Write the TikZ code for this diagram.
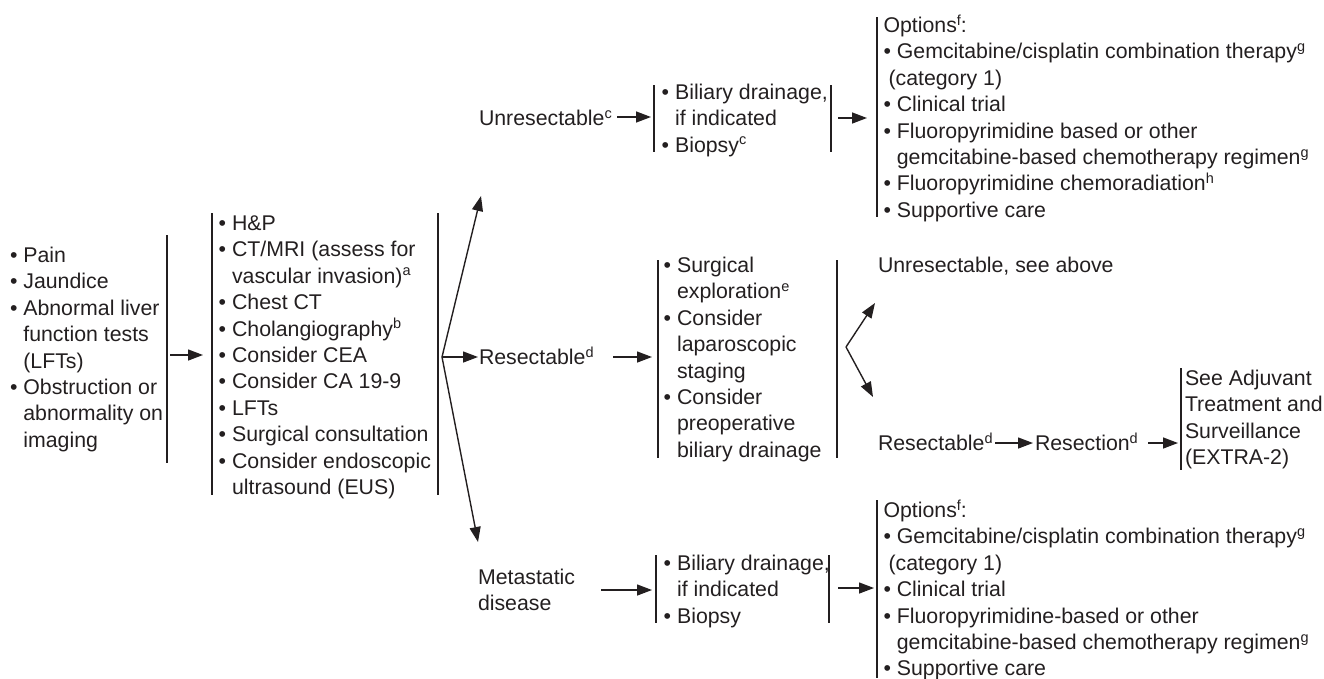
\documentclass[tikz,border=0pt]{standalone}
\usepackage{fontspec}
\setmainfont{Liberation Sans}
\usetikzlibrary{arrows.meta}
\definecolor{ink}{RGB}{35,31,32}
% footnote letters, bullets and hanging indents
\newcommand\fn[1]{\raisebox{7.5pt}{\fontsize{14.5}{14.5}\selectfont #1}}
\newcommand\bu{\textbullet\ }
\newcommand\ind{\hphantom{\textbullet\ }}
\newcommand\lines[1]{\begin{tabular}[t]{@{}l@{}}#1\end{tabular}}
\begin{document}
\begin{tikzpicture}[x=1pt,y=-1pt,
  every node/.style={inner sep=0pt,outer sep=0pt,text=ink,
    font=\fontsize{21.3}{26.4}\selectfont},
  txt/.style={anchor=base west},
  bar/.style={draw=ink,line width=1.4pt},
  arr/.style={draw=ink,line width=1.4pt,-{Triangle[length=15pt,width=11pt]}}]
\useasboundingbox (0,0) rectangle (1324,678);

% presenting signs
\node[txt] (sym) at (10,262.5) {\lines{\bu Pain\\ \bu Jaundice\\ \bu Abnormal liver\\
  \ind function tests\\ \ind (LFTs)\\ \bu Obstruction or\\ \ind abnormality on\\ \ind imaging}};
\coordinate (symT) at (167,235); \coordinate (symB) at (167,463);
\draw[bar] (symT) -- (symB);
\coordinate (symOut) at (170,355); \coordinate (wkIn) at (203,355);
\draw[arr] (symOut) -- (wkIn);

% workup
\coordinate (wkLT) at (212,213); \coordinate (wkLB) at (212,495);
\coordinate (wkRT) at (438,213); \coordinate (wkRB) at (438,495);
\draw[bar] (wkLT) -- (wkLB);
\draw[bar] (wkRT) -- (wkRB);
\node[txt] (wk) at (218.7,230.5) {\lines{\bu H\&P\\ \bu CT/MRI (assess for\\
  \ind vascular invasion)\fn{a}\\ \bu Chest CT\\ \bu Cholangiography\fn{b}\\
  \bu Consider CEA\\ \bu Consider CA 19-9\\ \bu LFTs\\ \bu Surgical consultation\\
  \bu Consider endoscopic\\ \ind ultrasound (EUS)}};

% three-way split
\coordinate (fork) at (442,357);
\coordinate (toUnres) at (481,196);
\coordinate (toRes) at (478,357);
\coordinate (toMet) at (478,542);
\draw[arr] (fork) -- (toUnres);
\draw[arr] (fork) -- (toRes);
\draw[arr] (fork) -- (toMet);

% unresectable branch
\node[txt] (unres) at (479,125.5) {Unresectable\fn{c}};
\coordinate (unOut) at (617,117); \coordinate (unIn) at (651,117);
\draw[arr] (unOut) -- (unIn);
\coordinate (b1LT) at (654,85); \coordinate (b1LB) at (654,152);
\coordinate (b1RT) at (831,85); \coordinate (b1RB) at (831,152);
\draw[bar] (b1LT) -- (b1LB);
\draw[bar] (b1RT) -- (b1RB);
\node[txt] (drain1) at (661.7,99.5) {\lines{\bu Biliary drainage,\\ \ind if indicated\\ \bu Biopsy\fn{c}}};
\coordinate (d1Out) at (838,118); \coordinate (d1In) at (867,118);
\draw[arr] (d1Out) -- (d1In);
\coordinate (o1T) at (877,17); \coordinate (o1B) at (877,217);
\draw[bar] (o1T) -- (o1B);
\node[txt] (opt1) at (883.5,32.5) {\lines{Options\fn{f}:\\
  \bu Gemcitabine/cisplatin combination therapy\fn{g}\\ \hspace*{5pt}(category 1)\\
  \bu Clinical trial\\ \bu Fluoropyrimidine based or other\\
  \ind gemcitabine-based chemotherapy regimen\fn{g}\\
  \bu Fluoropyrimidine chemoradiation\fn{h}\\ \bu Supportive care}};

% resectable branch
\node[txt] (res) at (479,364.5) {Resectable\fn{d}};
\coordinate (resOut) at (613,357); \coordinate (resIn) at (652,357);
\draw[arr] (resOut) -- (resIn);
\coordinate (b2LT) at (658,260); \coordinate (b2LB) at (658,458);
\coordinate (b2RT) at (837,260); \coordinate (b2RB) at (837,458);
\draw[bar] (b2LT) -- (b2LB);
\draw[bar] (b2RT) -- (b2RB);
\node[txt] (surg) at (663.7,272.5) {\lines{\bu Surgical\\ \ind exploration\fn{e}\\
  \bu Consider\\ \ind laparoscopic\\ \ind staging\\ \bu Consider\\ \ind preoperative\\
  \ind biliary drainage}};
\coordinate (fork2) at (846,347);
\coordinate (toUnres2) at (875,303);
\coordinate (toRes2) at (873,397);
\draw[arr] (fork2) -- (toUnres2);
\draw[arr] (fork2) -- (toRes2);
\node[txt] (unres2) at (878,272.5) {Unresectable, see above};
\node[txt] (res2) at (878,450.5) {Resectable\fn{d}};
\coordinate (r2Out) at (995,443); \coordinate (r2In) at (1033,443);
\draw[arr] (r2Out) -- (r2In);
\node[txt] (resect) at (1035,450.5) {Resection\fn{d}};
\coordinate (rsOut) at (1148,443); \coordinate (rsIn) at (1178,443);
\draw[arr] (rsOut) -- (rsIn);
\coordinate (adjT) at (1181,368); \coordinate (adjB) at (1181,470);
\draw[bar] (adjT) -- (adjB);
\node[txt] (adj) at (1185,385.5) {\lines{See Adjuvant\\ Treatment and\\ Surveillance\\ (EXTRA-2)}};

% metastatic branch
\node[txt] (met) at (478,584.5) {\lines{Metastatic\\ disease}};
\coordinate (mOut) at (601,590); \coordinate (mIn) at (652,590);
\draw[arr] (mOut) -- (mIn);
\coordinate (b3LT) at (656,555); \coordinate (b3LB) at (656,623);
\coordinate (b3RT) at (829,555); \coordinate (b3RB) at (829,623);
\draw[bar] (b3LT) -- (b3LB);
\draw[bar] (b3RT) -- (b3RB);
\node[txt] (drain3) at (663.7,570.5) {\lines{\bu Biliary drainage,\\ \ind if indicated\\ \bu Biopsy}};
\coordinate (d3Out) at (838,588); \coordinate (d3In) at (874,588);
\draw[arr] (d3Out) -- (d3In);
\coordinate (o3T) at (877,500); \coordinate (o3B) at (877,678);
\draw[bar] (o3T) -- (o3B);
\node[txt] (opt3) at (883.5,517.5) {\lines{Options\fn{f}:\\
  \bu Gemcitabine/cisplatin combination therapy\fn{g}\\ \hspace*{5pt}(category 1)\\
  \bu Clinical trial\\ \bu Fluoropyrimidine-based or other\\
  \ind gemcitabine-based chemotherapy regimen\fn{g}\\ \bu Supportive care}};
\end{tikzpicture}
\end{document}
